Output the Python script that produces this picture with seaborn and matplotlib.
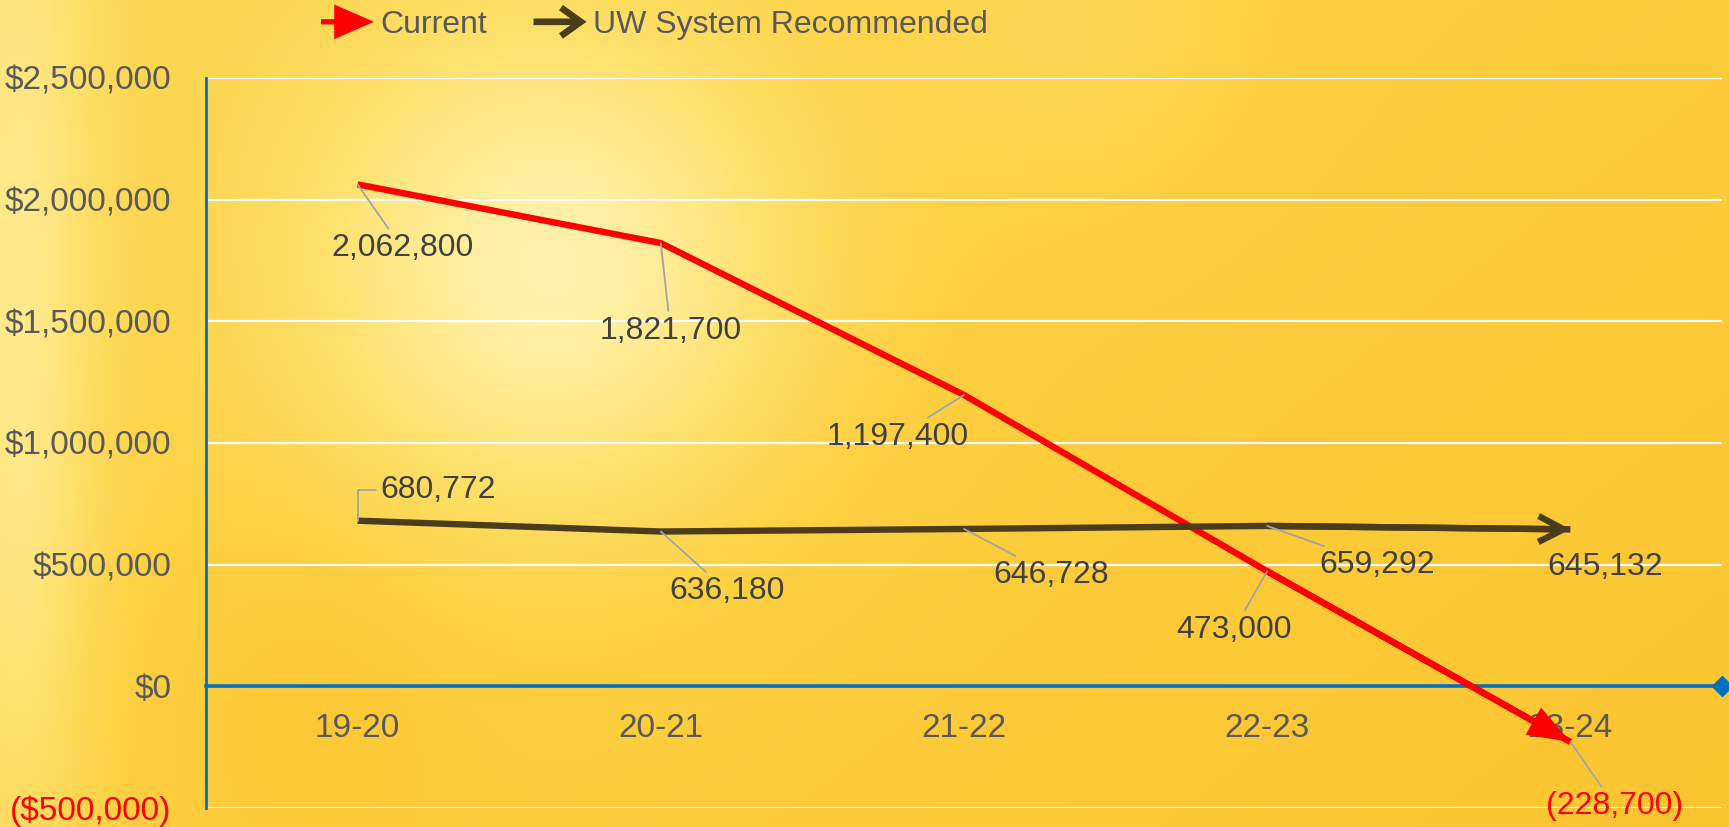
import numpy as np
import pandas as pd
import matplotlib
matplotlib.use("Agg")
import matplotlib.pyplot as plt
import seaborn as sns
import matplotlib.patches as mpatches
from matplotlib.ticker import FuncFormatter, MultipleLocator
from matplotlib.legend_handler import HandlerPatch
from matplotlib.colors import LinearSegmentedColormap

# ---------------- data ----------------
years = ["19-20", "20-21", "21-22", "22-23", "23-24"]
current = [2062800, 1821700, 1197400, 473000, -228700]
uw_recommended = [680772, 636180, 646728, 659292, 645132]
series_names = ["Current", "UW System Recommended"]

# label offsets (points) for the data labels
current_offsets = [(32, -46), (7, -63), (-48, -30), (-24, -42), (32, -46)]
uw_offsets = [(58, 22), (48, -43), (63, -33), (79, -28), (25, -27)]

RED = "#FF0000"
DARK = "#4A3E1A"
BLUE = "#0070C0"
TICK_GRAY = "#595959"
LABEL_GRAY = "#404040"
FS = 23
TFS = 24
LW = 4.6

sns.set_theme(style="white")
plt.rcParams["font.family"] = ["Liberation Sans", "DejaVu Sans"]

fig = plt.figure(figsize=(17.29, 8.27), dpi=100)

# ---------------- background texture (gradient) ----------------
bg = fig.add_axes([0, 0, 1, 1], zorder=-10)
H, W = 240, 500
yy, xx = np.mgrid[0:1:H * 1j, 0:1:W * 1j]
light = 0.36 - 0.16 * xx - 0.10 * yy
light += 0.55 * np.exp(-(((xx - 0.32) / 0.14) ** 2 + ((yy - 0.33) / 0.30) ** 2))
light += 0.35 * np.exp(-(((xx - 0.01) / 0.045) ** 2 + ((yy - 0.45) / 0.7) ** 2))
light += 0.12 * np.exp(-(((xx - 0.62) / 0.10) ** 2 + ((yy - 0.05) / 0.20) ** 2))
light -= 0.10 * np.exp(-(((xx - 0.18) / 0.08) ** 2 + ((yy - 0.85) / 0.2) ** 2))
light = np.clip(light, 0, 1)
cmap = LinearSegmentedColormap.from_list(
    "bg", [(0.0, "#FBBF26"), (0.3, "#FDD245"), (0.55, "#FEE373"),
           (0.8, "#FFF0A6"), (1.0, "#FFF8CC")])
bg.imshow(light, cmap=cmap, aspect="auto", extent=[0, 1, 0, 1],
          vmin=0, vmax=1, interpolation="bicubic")
bg.set_axis_off()

# ---------------- main axes ----------------
ax = fig.add_axes([206 / 1729, 1 - 808 / 827, (1722 - 206) / 1729, (808 - 78) / 827])
ax.set_facecolor("none")

df = pd.DataFrame({
    "Year": years * 2,
    "Value": current + uw_recommended,
    "Series": [series_names[0]] * len(years) + [series_names[1]] * len(years),
})
palette = {series_names[0]: RED, series_names[1]: DARK}

sns.lineplot(data=df, x="Year", y="Value", hue="Series", palette=palette,
             linewidth=LW, legend=False, ax=ax, sort=False, zorder=4,
             solid_capstyle="butt", solid_joinstyle="round")

# arrowheads at the end of each series
head_styles = {
    RED: "-|>,head_length=0.6,head_width=0.22",
    DARK: "->,head_length=0.5,head_width=0.26",
}
for vals, col in [(current, RED), (uw_recommended, DARK)]:
    n = len(vals)
    ax.annotate("", xy=(n - 1, vals[-1]), xytext=(n - 2, vals[-2]),
                arrowprops=dict(arrowstyle=head_styles[col], color=col, lw=LW,
                                mutation_scale=36, shrinkA=0, shrinkB=0,
                                joinstyle="miter", capstyle="butt"),
                zorder=4)

ax.set_xlim(-0.5, len(years) - 0.5)
ax.set_ylim(-500000, 2500000)
ax.yaxis.set_major_locator(MultipleLocator(500000))


def money(v, pos=None):
    if v < 0:
        return f"(${abs(v):,.0f})"
    return f"${v:,.0f}"


ax.yaxis.set_major_formatter(FuncFormatter(money))
ax.set_xlabel("")
ax.set_ylabel("")

ax.yaxis.grid(True, color="white", lw=1.6)
ax.xaxis.grid(False)

for s in ["top", "right"]:
    ax.spines[s].set_visible(False)
ax.spines["left"].set_color(BLUE)
ax.spines["left"].set_linewidth(2)
ax.spines["bottom"].set_position(("data", 0))
ax.spines["bottom"].set_color(BLUE)
ax.spines["bottom"].set_linewidth(2.6)
ax.spines["bottom"].set_zorder(3)

ax.tick_params(axis="y", which="major", length=7, width=2, color=BLUE,
               direction="in", pad=25, labelsize=TFS, labelcolor=TICK_GRAY)
ax.tick_params(axis="x", which="major", length=0, pad=19, labelsize=TFS,
               labelcolor=TICK_GRAY)
for lab in ax.get_yticklabels():
    if lab.get_text().startswith("("):
        lab.set_color(RED)

# diamond at the end of the zero line
ax.plot([1], [0], transform=ax.get_yaxis_transform(), marker="D", ms=10,
        color=BLUE, clip_on=False, zorder=5)

# ---------------- data labels with leader lines ----------------
def fmt(v):
    return f"({abs(v):,})" if v < 0 else f"{v:,}"


for vals, offs in [(current, current_offsets), (uw_recommended, uw_offsets)]:
    for i, (v, off) in enumerate(zip(vals, offs)):
        dist = np.hypot(*off)
        props = None
        if dist > 40:
            props = dict(arrowstyle="-", color="#A0A4A8", lw=1.3,
                         shrinkA=1, shrinkB=0)
            if off[1] > 0 and abs(off[0]) > 40:
                props["connectionstyle"] = "angle,angleA=0,angleB=90,rad=0"
        ax.annotate(fmt(v), xy=(i, v), xytext=off, textcoords="offset points",
                    ha="center", va="center", fontsize=FS,
                    color=RED if v < 0 else LABEL_GRAY,
                    arrowprops=props, zorder=5)

# ---------------- legend with arrow glyphs ----------------
legend_styles = {
    RED: ("-|>,head_length=0.55,head_width=0.24", 40, 3.8),
    DARK: ("->,head_length=0.42,head_width=0.3", 34, 4.8),
}


def make_arrow(legend, orig_handle, xdescent, ydescent, width, height, fontsize):
    col = orig_handle.get_gid()
    style, ms, lw = legend_styles[col]
    p = mpatches.FancyArrowPatch((-xdescent, height / 2 - ydescent),
                                 (width - xdescent, height / 2 - ydescent),
                                 arrowstyle=style, mutation_scale=ms,
                                 shrinkA=0, shrinkB=0)
    p._legend_color = col
    p._legend_lw = lw
    return p


class ArrowHandler(HandlerPatch):
    def create_artists(self, legend, orig_handle, xdescent, ydescent,
                       width, height, fontsize, trans):
        p = make_arrow(legend, orig_handle, xdescent, ydescent, width,
                       height, fontsize)
        p.set_color(p._legend_color)
        p.set_linewidth(p._legend_lw)
        p.set_joinstyle("miter")
        p.set_capstyle("butt")
        p.set_transform(trans)
        return [p]


handles = []
for col in (RED, DARK):
    h = mpatches.Rectangle((0, 0), 1, 1, color=col)
    h.set_gid(col)
    handles.append(h)

leg = fig.legend(handles, series_names, loc="center left",
                 bbox_to_anchor=(321 / 1729, 1 - 25 / 827), ncol=2,
                 frameon=False, fontsize=FS, handlelength=1.66,
                 handletextpad=0.2, columnspacing=1.45, borderpad=0,
                 borderaxespad=0,
                 handler_map={mpatches.Rectangle: ArrowHandler()})
for t in leg.get_texts():
    t.set_color(TICK_GRAY)

fig.savefig("out.png", dpi=100)
